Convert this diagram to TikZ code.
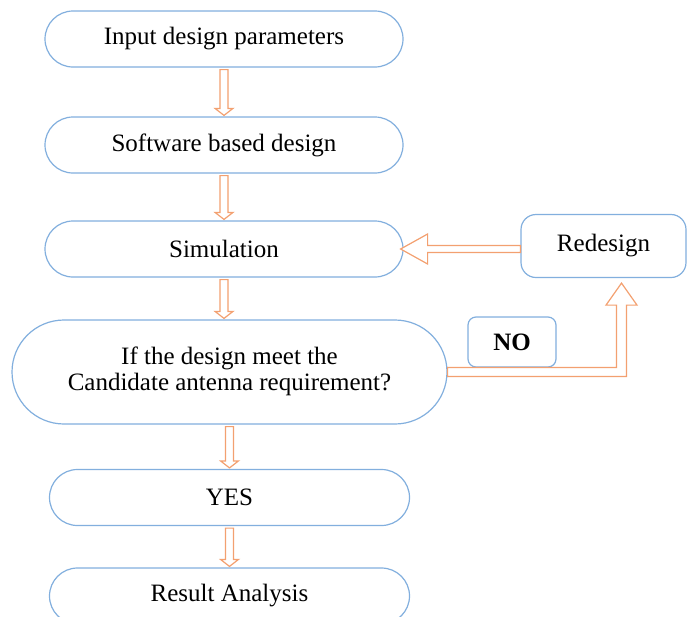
\documentclass[tikz,border=0pt]{standalone}
\usepackage{fontspec}
\setmainfont{Liberation Serif}
\usetikzlibrary{calc}
\definecolor{boxblue}{RGB}{130,175,222}
\definecolor{arrorange}{RGB}{243,160,112}
\tikzset{
  box/.style={draw=boxblue, line width=1.2pt, fill=white, align=center,
    font=\fontsize{25}{26}\selectfont, inner sep=0pt},
  stad/.style={box, minimum width=358pt, minimum height=56pt, rounded corners=28pt},
  barrow/.style={draw=arrorange, line width=1.2pt, fill=white, line join=miter}
}
\newcommand\vblock[2]{%
  \draw[barrow] let \p1=(#1.south), \p2=(#2.north) in
    (\x1-4pt,\y1-2pt) -- (\x1+4pt,\y1-2pt) -- (\x1+4pt,\y2+8pt) -- (\x1+9pt,\y2+8pt)
    -- (\x1,\y2+1pt) -- (\x1-9pt,\y2+8pt) -- (\x1-4pt,\y2+8pt) -- cycle;}
\begin{document}
\begin{tikzpicture}[x=1pt,y=-1pt]
\useasboundingbox (0,0) rectangle (687,616);
\clip (0,0) rectangle (687,616);
\node[stad] (b1) at (224,39) {Input design parameters};
\node[stad] (b2) at (224,145) {Software based design};
\node[stad] (sim) at (224,249) {Simulation};
\node[box, minimum width=165pt, minimum height=63pt, rounded corners=15pt] (red) at (603.5,246) {Redesign};
\node[box, minimum width=435pt, minimum height=104pt, rounded corners=52pt] (dec) at (229.5,372)
  {\raisebox{5pt}{\begin{tabular}{@{}c@{}}If the design meet the\\Candidate antenna requirement?\end{tabular}}};
\node[box, minimum width=88pt, minimum height=50pt, rounded corners=8pt, font=\fontsize{25}{26}\selectfont\bfseries] (no) at (512,342) {NO};
\node[stad, minimum width=360pt] (yes) at (229.5,497.5) {YES};
\node[stad, minimum width=360pt] (res) at (229.5,596) {Result Analysis};

\vblock{b1}{b2}
\vblock{b2}{sim}
\vblock{sim}{dec}
\vblock{dec}{yes}
\vblock{yes}{res}

\draw[barrow] let \p1=(red.west), \p2=(sim.east) in
  (\x1,\y2+3.5pt) -- (\x2+24pt,\y2+3.5pt) -- (\x2+24pt,\y2+15pt) -- (\x2-3pt,\y2)
  -- (\x2+24pt,\y2-15pt) -- (\x2+24pt,\y2-3.5pt) -- (\x1,\y2-3.5pt) -- cycle;

\draw[barrow] let \p1=(dec.east), \p2=(red.south), \n1={\x2+18pt} in
  (\x1,\y1+4.5pt) -- (\n1-5pt,\y1+4.5pt) -- (\n1-5pt,\y2-27pt) -- (\n1-15.5pt,\y2-27pt)
  -- (\n1,\y2-5pt) -- (\n1+15.5pt,\y2-27pt) -- (\n1+5pt,\y2-27pt) -- (\n1+5pt,\y1-4.5pt)
  -- (\x1,\y1-4.5pt) -- cycle;
\end{tikzpicture}
\end{document}
